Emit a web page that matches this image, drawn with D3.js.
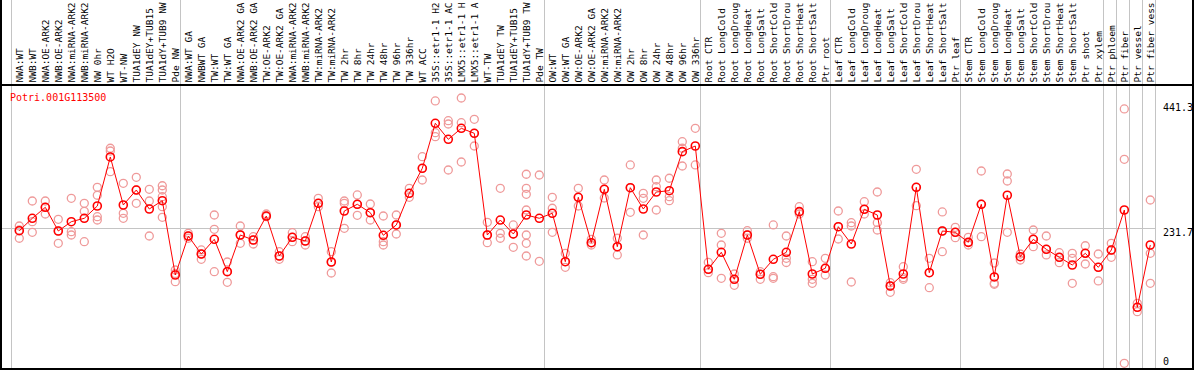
<!DOCTYPE html>
<html>
<head>
<meta charset="utf-8">
<script src="https://cdn.jsdelivr.net/npm/d3@7/dist/d3.min.js"></script>
<style>
  html, body { margin: 0; padding: 0; background: #fff; }
  svg { display: block; }
  text { font-family: "DejaVu Sans Mono", "Liberation Mono", monospace; }
</style>
</head>
<body>
<div id="chart"></div>
<script>
// ---------------- DATA ----------------
const geneId = "Potri.001G113500";

const categories = [
  "NWA:WT","NWB:WT","NWA:OE-ARK2","NWB:OE-ARK2","NWA:miRNA-ARK2","NWB:miRNA-ARK2","NW 0hr","WT H2O","WT-NW","TUA1dEY NW","TUA1dEY+TUB15","TUA1dY+TUB9 NW","Pde NW",
  "NWA:WT GA","NWBWT GA","TW:WT","TW:WT GA","NWA:OE-ARK2 GA","NWB:OE-ARK2 GA","TW:OE-ARK2","TW:OE-ARK2 GA","NWA:miRNA-ARK2","NWB:miRNA-ARK2","TW:miRNA-ARK2","TW:miRNA-ARK2",
  "TW 2hr","TW 8hr","TW 24hr","TW 48hr","TW 96hr","TW 336hr","WT ACC","35S::etr1-1 H2","35S::etr1-1 AC","LMX5::etr1-1 H","LMX5::etr1-1 A","WT-TW","TUA1dEY TW","TUA1dEY+TUB15","TUA1dY+TUB9 TW","Pde TW",
  "OW:WT","OW:WT GA","OW:OE-ARK2","OW:OE-ARK2 GA","OW:miRNA-ARK2","OW:miRNA-ARK2","OW 2hr","OW 8hr","OW 24hr","OW 48hr","OW 96hr","OW 336hr",
  "Root CTR","Root LongCold","Root LongDroug","Root LongHeat","Root LongSalt","Root ShortCold","Root ShortDrou","Root ShortHeat","Root ShortSalt","Ptr root",
  "Leaf CTR","Leaf LongCold","Leaf LongDroug","Leaf LongHeat","Leaf LongSalt","Leaf ShortCold","Leaf ShortDrou","Leaf ShortHeat","Leaf ShortSalt","Ptr leaf",
  "Stem CTR","Stem LongCold","Stem LongDroug","Stem LongHeat","Stem LongSalt","Stem ShortCold","Stem ShortDrou","Stem ShortHeat","Stem ShortSalt","Ptr shoot","Ptr xylem",
  "Ptr phloem","Ptr fiber","Ptr vessel","Ptr fiber vess"
];

const means = [
  227.7,248.5,266.9,227.2,242.8,248.5,269.1,351.3,270.8,295.9,264.1,278.0,153.4,
  218.8,188.6,213.3,159.0,220.5,212.1,252.3,185.3,216.6,210.4,273.6,175.2,
  260.7,272.0,257.9,220.0,237.3,290.4,332.3,407.8,380.9,399.4,391.0,220.5,245.6,222.2,254.0,248.5,
  256.9,175.7,283.7,207.6,297.1,200.9,299.8,264.1,292.6,294.8,360.2,369.7,
  163.0,191.5,146.2,220.5,154.6,179.7,191.5,259.6,155.1,164.7,
  234.4,205.4,263.6,254.0,135.0,155.1,300.5,157.3,227.2,225.0,
  208.2,272.0,150.1,287.1,184.1,213.3,196.5,183.1,170.2,189.8,166.3,
  195.3,262.4,99.3,203.7
];

const replicates = [
  [235.6,228.9,215.0],[277.5,242.8,225.0],[277.5,266.9,255.7],[246.8,227.2,206.6],[282.0,226.0,220.5],[273.6,260.2,209.3],[300.5,287.1,251.2,245.6],[365.9,361.3,326.6],[307.2,256.9,248.5],[317.2,295.9,273.6],[297.1,277.5,218.8],[303.1,295.9,284.7,267.9,250.2],[161.8,155.9,142.2],
  [223.3,218.8,215.0],[195.4,188.6,179.7],[254.0,230.0,159.0],[175.2,159.0,141.2],[235.6,220.5,206.6],[217.6,212.1,205.4],[255.7,252.3,251.2],[192.5,185.3,179.7],[224.3,216.6,209.3],[217.6,210.4,203.7],[282.0,273.6,267.9],[192.5,175.2,156.8],
  [277.5,273.6,231.7],[287.6,272.0,253.5],[272.5,257.9,245.6],[252.3,209.3,203.7],[254.0,237.3,222.2],[298.8,290.4,283.7],[351.8,332.3,312.7],[445.2,392.0,385.3],[412.1,406.6,329.5],[450.2,408.8,342.9],[414.5,391.0,369.7],[241.8,220.5,207.6],[298.8,223.3,215.0],[237.3,222.2,199.9],[322.3,298.8,288.7,262.4,220.5,206.6,185.3],[321.1,176.4],
  [283.7,265.3,225.0],[189.8,175.7,166.3],[298.8,283.7,269.1],[213.3,207.6,203.7],[312.7,297.1,282.5],[215.0,200.9,187.0],[337.9,299.8,258.5],[290.4,282.0,220.5],[312.7,301.5,262.4],[315.6,284.7,278.0],[376.9,365.9,336.2],[399.4,337.9],
  [174.7,163.0,157.3],[223.3,203.7,147.9],[155.1,146.2,136.1],[227.7,220.5,215.0],[159.0,154.6,146.2],[237.3,150.6,147.9],[218.8,181.4,174.4],[267.9,259.6,255.7],[175.7,146.2,139.5],[181.4,164.7,153.4],
  [260.7,234.4,213.8],[241.1,235.6,141.7],[276.3,263.6,255.7],[292.6,241.1,228.9],[140.5,135.0,124.4],[167.3,148.9,146.2],[330.6,300.5,269.6],[181.4,157.3,132.1],[259.1,227.2,192.5],[233.4,225.0,216.0],
  [216.6,208.2,203.7],[327.8,272.0,217.6],[173.5,139.5,137.8],[322.8,311.0,225.0],[188.6,184.1,178.6],[228.9,213.3,200.9],[218.8,196.5,187.0],[190.8,183.1,174.0],[189.8,181.4,139.5],[202.5,189.8,171.9],[188.6,166.3,143.4],
  [206.6,195.3,183.1],[431.8,347.4,5.4],[106.0,99.3,91.9],[279.2,189.8,139.5]
];

// indices of the last category in each block (a separator follows each)
const blockEnds = [12, 40, 52, 62, 72, 83, 84, 85, 86, 87];
const yTickValues = [0, 231.7, 441.3];
const gridValue = 231.7;

// ---------------- LAYOUT ----------------
const W = 1194, H = 370;
const headerY = 85, bottomY = 369;
const step = 13, x0 = 12.8;

const svg = d3.select("#chart").append("svg")
  .attr("width", W).attr("height", H);

const x = d3.scaleBand()
  .domain(d3.range(categories.length))
  .range([x0, x0 + step * categories.length])
  .paddingInner(0).paddingOuter(0);
const cx = i => x(i) + x.bandwidth() / 2;

const y = d3.scaleLinear().domain([0, 441.3]).range([366.5, 103.3]);

const snap = v => Math.floor(v) + 0.5;

// separators
const sepX = [x(0) - 1.5].concat(blockEnds.map(i => x(i) + step - 1.5)).map(snap);
svg.append("g").selectAll("line").data(sepX).join("line")
  .attr("x1", d => d).attr("x2", d => d)
  .attr("y1", 0).attr("y2", bottomY)
  .attr("stroke", "#c4c4c4").attr("stroke-width", 1);

// horizontal grid line
svg.append("line")
  .attr("x1", 2).attr("x2", sepX[sepX.length - 1])
  .attr("y1", snap(y(gridValue))).attr("y2", snap(y(gridValue)))
  .attr("stroke", "#c4c4c4").attr("stroke-width", 1);

// frame
const frame = svg.append("g").attr("stroke", "#000");
frame.append("line").attr("x1", 1).attr("x2", 1).attr("y1", 0).attr("y2", H).attr("stroke-width", 2);
frame.append("line").attr("x1", 1193).attr("x2", 1193).attr("y1", 0).attr("y2", H).attr("stroke-width", 2);
frame.append("line").attr("x1", 0).attr("x2", W).attr("y1", headerY).attr("y2", headerY).attr("stroke-width", 2);
frame.append("line").attr("x1", 0).attr("x2", W).attr("y1", bottomY).attr("y2", bottomY).attr("stroke-width", 2);

// category labels (rotated)
svg.append("g").selectAll("text").data(categories).join("text")
  .attr("transform", (d, i) => `translate(${cx(i) + 3.3},82.5) rotate(-90)`)
  .attr("font-size", 9.5)
  .attr("fill", "#000")
  .text(d => d);

// title
svg.append("text")
  .attr("x", 10).attr("y", 100.5)
  .attr("font-size", 10).attr("fill", "#ff0000")
  .text(geneId);

// y tick labels (right side)
svg.append("g").selectAll("text").data(yTickValues).join("text")
  .attr("x", 1163)
  .attr("y", d => Math.min(y(d) + 7.5, 365))
  .attr("font-size", 10).attr("fill", "#000")
  .text(d => d === 0 ? "0" : d3.format(".1f")(d));

// replicate markers
const repPts = [];
replicates.forEach((arr, i) => arr.forEach(v => repPts.push({ i, v })));
svg.append("g").selectAll("circle").data(repPts).join("circle")
  .attr("cx", d => cx(d.i)).attr("cy", d => y(d.v)).attr("r", 4)
  .attr("fill", "none").attr("stroke", "#ef9a9a").attr("stroke-width", 1.3);

// mean line
svg.append("path")
  .datum(means)
  .attr("d", d3.line().x((d, i) => cx(i)).y(d => y(d)))
  .attr("fill", "none").attr("stroke", "#ff0000").attr("stroke-width", 1);

// mean markers
svg.append("g").selectAll("circle").data(means).join("circle")
  .attr("cx", (d, i) => cx(i)).attr("cy", d => y(d)).attr("r", 4)
  .attr("fill", "none").attr("stroke", "#ff0000").attr("stroke-width", 1.6);
</script>
</body>
</html>
